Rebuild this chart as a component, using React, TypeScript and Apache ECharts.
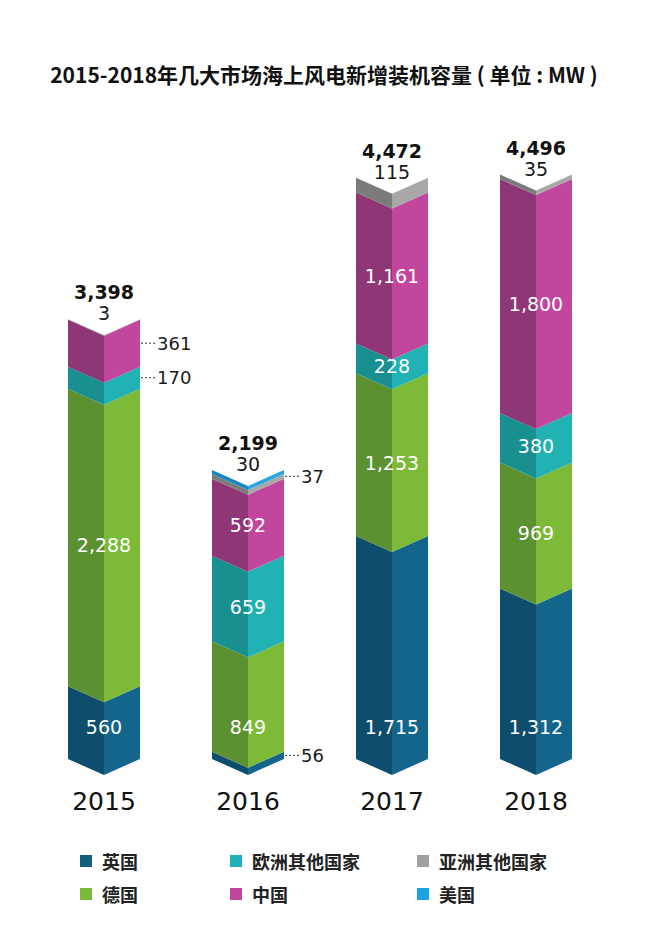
import React, { useEffect, useRef } from "react";
import * as echarts from "echarts";

// ---- data ----
const years = ["2015", "2016", "2017", "2018"];
const seriesNames = ["英国", "德国", "欧洲其他国家", "中国", "亚洲其他国家", "美国"];
const ukValues = [560, 56, 1715, 1312];
const germanyValues = [2288, 849, 1253, 969];
const otherEuropeValues = [170, 659, 228, 380];
const chinaValues = [361, 592, 1161, 1800];
const otherAsiaValues = [3, 37, 115, 35];
const usaValues = [0, 30, 0, 0];
const totals = [3398, 2199, 4472, 4496];
// labels drawn outside the bar with a dashed leader: [year, series]
const leaderLabels = [
  ["2015", "中国"],
  ["2015", "欧洲其他国家"],
  ["2016", "英国"],
  ["2016", "亚洲其他国家"],
];

const seriesValues = [ukValues, germanyValues, otherEuropeValues, chinaValues, otherAsiaValues, usaValues];

// face colours: [left (shade), right (light)], legend colour
const faceColors = [
  ["#0e4d6b", "#14658b"],
  ["#5b9130", "#7cba38"],
  ["#18908f", "#21b2b4"],
  ["#8f3676", "#c1469e"],
  ["#7b7b7b", "#a8a8a8"],
  ["#1787c2", "#27a6df"],
];
const legendColors = ["#135d7e", "#7ab83a", "#1fb2b4", "#c2449c", "#a0a0a0", "#1aa3e0"];
const legendPos = [
  [75, 847],
  [75, 880],
  [225, 847],
  [225, 880],
  [412, 847],
  [412, 880],
];

const HALF_W = 36;
const DIP = 16;
const NUM_FONT = "DejaVu Sans";

function fmt(v: number) {
  return v.toLocaleString("en-US");
}

export default function App() {
  const ref = useRef<HTMLDivElement>(null);

  useEffect(() => {
    document.body.style.margin = "0";
    if (!ref.current) return;
    const chart = echarts.init(ref.current, null, { renderer: "svg" });

    // stacking
    const starts: number[][] = seriesValues.map(() => years.map(() => 0));
    const cum = years.map(() => 0);
    seriesValues.forEach((arr, s) => {
      arr.forEach((v, i) => {
        starts[s][i] = cum[i];
        cum[i] += v;
      });
    });
    const topSeries = years.map((_, i) => {
      let t = -1;
      seriesValues.forEach((arr, s) => {
        if (arr[i] > 0) t = s;
      });
      return t;
    });
    const isLeader = (i: number, s: number) =>
      leaderLabels.some(([y, n]) => y === years[i] && n === seriesNames[s]);
    const bottomInside = years.map((_, i) => {
      for (let s = 0; s < seriesValues.length; s++) {
        if (seriesValues[s][i] > 0 && !isLeader(i, s) && s !== topSeries[i]) return s;
      }
      return -1;
    });

    const series: any[] = seriesValues.map((arr, s) => ({
      type: "custom",
      name: seriesNames[s],
      itemStyle: { color: legendColors[s] },
      encode: { x: 0, y: [1, 2] },
      data: arr
        .map((v, i) => [i, starts[s][i], starts[s][i] + v, v])
        .filter((d) => d[3] > 0),
      renderItem: (params: any, api: any) => {
        const i = api.value(0);
        const v = api.value(3);
        const p0 = api.coord([i, api.value(1)]);
        const p1 = api.coord([i, api.value(2)]);
        const cx = p0[0];
        const yb = p0[1];
        const yt = p1[1];
        const children: any[] = [
          {
            type: "polygon",
            shape: { points: [[cx - HALF_W, yt], [cx, yt + DIP], [cx, yb + DIP], [cx - HALF_W, yb]] },
            style: { fill: faceColors[s][0] },
          },
          {
            type: "polygon",
            shape: { points: [[cx, yt + DIP], [cx + HALF_W, yt], [cx + HALF_W, yb], [cx, yb + DIP]] },
            style: { fill: faceColors[s][1] },
          },
        ];
        const base = api.coord([i, 0])[1];
        if (s === topSeries[i]) {
          children.push({
            type: "text",
            style: {
              text: fmt(v),
              x: cx,
              y: yt - 6,
              align: "center",
              verticalAlign: "middle",
              fill: "#1a1a1a",
              fontSize: 19,
              fontFamily: NUM_FONT,
            },
          });
        } else if (isLeader(i, s)) {
          const ym = (yt + yb) / 2;
          children.push({
            type: "line",
            shape: { x1: cx + HALF_W + 1, y1: ym, x2: cx + HALF_W + 15, y2: ym },
            style: { stroke: "#333", lineWidth: 1, lineDash: [2, 2] },
          });
          children.push({
            type: "text",
            style: {
              text: fmt(v),
              x: cx + HALF_W + 17,
              y: ym,
              align: "left",
              verticalAlign: "middle",
              fill: "#1a1a1a",
              fontSize: 18,
              fontFamily: NUM_FONT,
            },
          });
        } else {
          const y = s === bottomInside[i] ? base - 32 : (yt + yb) / 2 + DIP / 2;
          children.push({
            type: "text",
            style: {
              text: fmt(v),
              x: cx,
              y,
              align: "center",
              verticalAlign: "middle",
              fill: "#ffffff",
              fontSize: 19,
              fontFamily: NUM_FONT,
            },
          });
        }
        return { type: "group", children };
      },
    }));

    series.push({
      type: "custom",
      name: "合计",
      encode: { x: 0, y: 1 },
      data: totals.map((t, i) => [i, cum[i], t]),
      renderItem: (params: any, api: any) => {
        const p = api.coord([api.value(0), api.value(1)]);
        return {
          type: "text",
          style: {
            text: fmt(api.value(2)),
            x: p[0],
            y: p[1] - 27,
            align: "center",
            verticalAlign: "middle",
            fill: "#111",
            fontSize: 19,
            fontWeight: "bold",
            fontFamily: NUM_FONT,
          },
        };
      },
    });

    chart.setOption({
      animation: false,
      backgroundColor: "#ffffff",
      title: {
        text: "2015-2018年几大市场海上风电新增装机容量 ( 单位 : MW )",
        left: "center",
        top: 58,
        textStyle: {
          fontSize: 21,
          fontWeight: "bold",
          color: "#111",
          fontFamily: "Noto Sans CJK SC",
        },
      },
      grid: { left: 32, right: 40, top: 109, bottom: 181 },
      xAxis: {
        type: "category",
        data: years,
        axisLine: { show: false },
        axisTick: { show: false },
        axisLabel: { fontSize: 25, color: "#111", margin: 30, fontFamily: NUM_FONT },
      },
      yAxis: { type: "value", min: 0, max: 5000, show: false },
      legend: seriesNames.map((n, s) => ({
        data: [n],
        left: legendPos[s][0],
        top: legendPos[s][1],
        icon: "rect",
        itemWidth: 12,
        itemHeight: 12,
        selectedMode: false,
        textStyle: {
          fontSize: 18,
          fontWeight: "bold",
          color: "#222",
          fontFamily: "Noto Sans CJK SC",
          padding: [0, 0, 0, 5],
        },
      })),
      series,
    });

    return () => chart.dispose();
  }, []);

  return <div ref={ref} style={{ width: 648, height: 940 }} />;
}
